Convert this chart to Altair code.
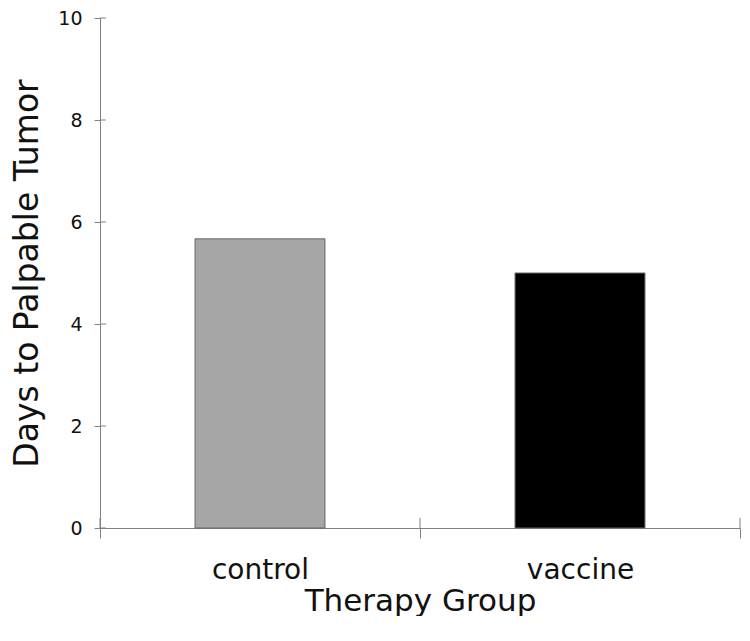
import altair as alt
import pandas as pd

groups = ["control", "vaccine"]
days = [5.67, 5.0]
bar_colors = ["#a6a6a6", "#000000"]
y_ticks = [0, 2, 4, 6, 8, 10]
x_bounds = [0, 1, 2]

df = pd.DataFrame({"group": groups, "days": days})
df_y = pd.DataFrame({"v": y_ticks})
df_x = pd.DataFrame({"b": x_bounds})

FONT = "DejaVu Sans"
AX = "#808080"
H = 510

x_scale = alt.Scale(domain=groups, paddingInner=0, paddingOuter=0)
y_scale = alt.Scale(domain=[0, 10])

bars = alt.Chart(df).mark_bar(stroke="#666666", strokeWidth=1,
                              width=alt.RelativeBandSize(0.406)).encode(
    x=alt.X("group:N", scale=x_scale, sort=groups,
            axis=alt.Axis(title="Therapy Group", labelAngle=0, tickBand="extent",
                          tickSize=10, labelPadding=18, titlePadding=2,
                          domainColor=AX, tickColor=AX,
                          labelFont=FONT, labelFontSize=28, labelColor="#111111",
                          titleFont=FONT, titleFontSize=31, titleFontWeight="normal",
                          titleColor="#111111")),
    y=alt.Y("days:Q", scale=y_scale,
            axis=alt.Axis(title="Days to Palpable Tumor", values=y_ticks, tickSize=6,
                          labelPadding=12, titlePadding=13, grid=False,
                          domainColor=AX, tickColor=AX,
                          labelFont=FONT, labelFontSize=19, labelColor="#111111",
                          titleFont=FONT, titleFontSize=33, titleFontWeight="normal",
                          titleColor="#111111")),
    color=alt.Color("group:N", scale=alt.Scale(domain=groups, range=bar_colors), legend=None),
)

y_inner = alt.Chart(df_y).mark_rule(color=AX, strokeWidth=1).encode(
    y=alt.Y("v:Q", scale=y_scale),
    x=alt.value(0),
    x2=alt.value(6),
)

x_inner = alt.Chart(df_x).mark_rule(color=AX, strokeWidth=1).encode(
    x=alt.X("b:Q", scale=alt.Scale(domain=[0, 2], nice=False, zero=False), axis=None),
    y=alt.value(H - 10),
    y2=alt.value(H),
)

chart = alt.layer(bars, y_inner, x_inner).resolve_scale(x="independent").properties(
    width=640, height=H, padding={"left": 3, "top": 1, "right": 0, "bottom": 0}
).configure_view(strokeWidth=0)

chart.save("out.html", embed_options={"renderer": "svg", "actions": False})
